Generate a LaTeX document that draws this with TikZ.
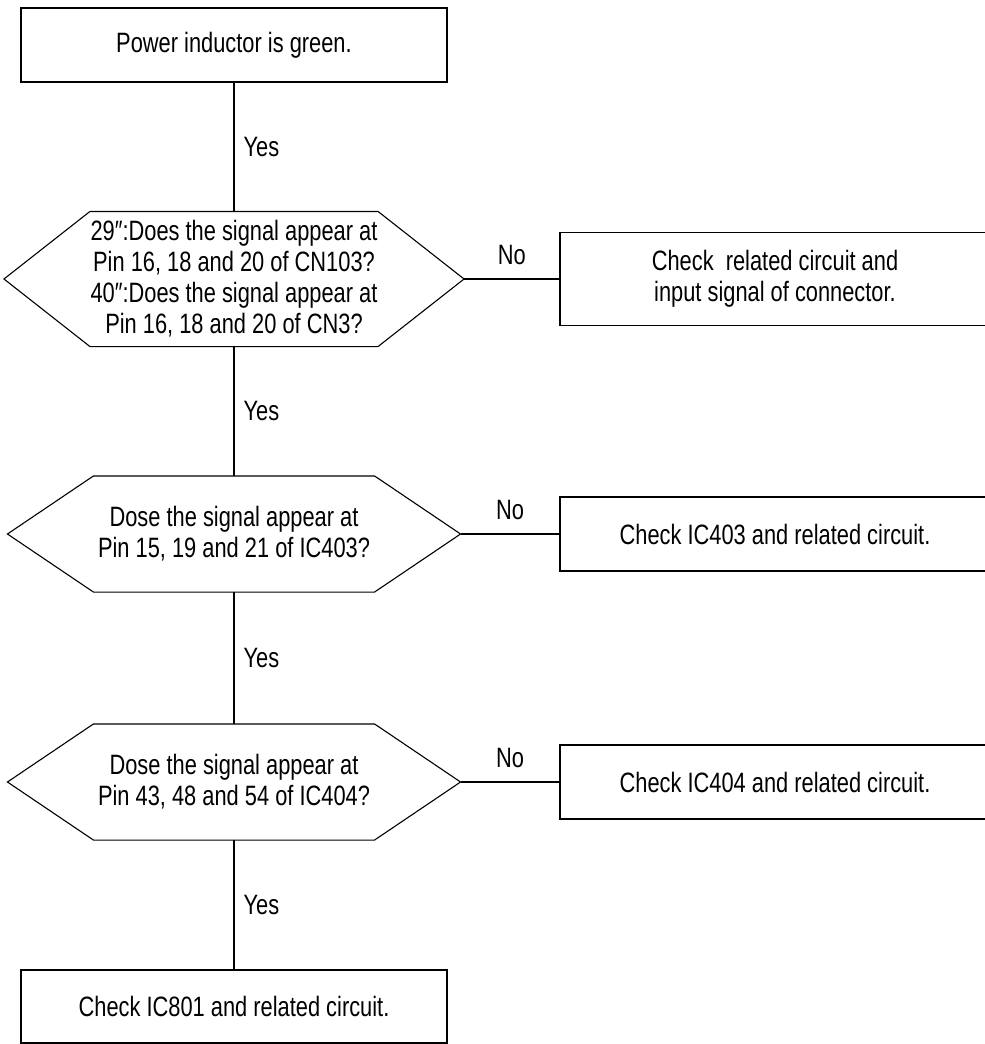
\documentclass[tikz,border=0pt]{standalone}
\usepackage{fontspec}
\setmainfont{Liberation Sans}[FakeStretch=0.78]
\usepackage{tikz}
\usetikzlibrary{positioning}

\begin{document}
\begin{tikzpicture}[x=1pt,y=-1pt,line width=1.1pt]
	\useasboundingbox (0,0) rectangle (985,1044);
	\clip (0,0) rectangle (985,1044);
	% boxes
	\begin{scope}[every node/.style={rectangle,draw,line width=1.1pt,align=center,inner sep=0pt,font=\fontsize{28}{31}\selectfont}]
		\node (P) at (234,45) [minimum width=426pt,minimum height=74pt] {Power inductor is green.};
		\node (B1) at (775,279) [minimum width=430pt,minimum height=93pt] {Check\ \ related circuit and\\input signal of connector.};
		\node (B2) at (775,534) [minimum width=430pt,minimum height=74pt] {Check IC403 and related circuit.};
		\node (B3) at (775,782) [minimum width=430pt,minimum height=74pt] {Check IC404 and related circuit.};
		\node (E) at (234,1006.5) [minimum width=426pt,minimum height=73pt] {Check IC801 and related circuit.};
	\end{scope}
	
	% questions
	\begin{scope}[every node/.style={rectangle,align=center,inner sep=0pt,minimum width=280pt,font=\fontsize{28}{31}\selectfont}]
		\node (H1) at (234,279) [minimum height=134pt] {29″:Does the signal appear at\\Pin 16, 18 and 20 of CN103?\\40″:Does the signal appear at\\Pin 16, 18 and 20 of CN3?};
		\node (H2) at (234,534) [minimum height=115pt] {Dose the signal appear at\\Pin 15, 19 and 21 of IC403?};
		\node (H3) at (234,782) [minimum height=115pt] {Dose the signal appear at\\Pin 43, 48 and 54 of IC404?};
	\end{scope}
	\coordinate (H1w) at ([xshift=-86pt]H1.west);
	\coordinate (H1e) at ([xshift=86pt]H1.east);
	\coordinate (H2w) at ([xshift=-86pt]H2.west);
	\coordinate (H2e) at ([xshift=86pt]H2.east);
	\coordinate (H3w) at ([xshift=-86pt]H3.west);
	\coordinate (H3e) at ([xshift=86pt]H3.east);
	\draw (H1.north west) -- (H1.north east) -- (H1e) -- (H1.south east) -- (H1.south west) -- (H1w) -- cycle;
	\draw (H2.north west) -- (H2.north east) -- (H2e) -- (H2.south east) -- (H2.south west) -- (H2w) -- cycle;
	\draw (H3.north west) -- (H3.north east) -- (H3e) -- (H3.south east) -- (H3.south west) -- (H3w) -- cycle;
	
	\begin{scope}[every node/.style={inner sep=0pt,font=\fontsize{28}{31}\selectfont}]
		\path (P) edge node[right=9pt] {Yes} (H1);
		\path (H1) edge node[right=9pt] {Yes} (H2);
		\path (H2) edge node[right=9pt] {Yes} (H3);
		\path (H3) edge node[right=9pt] {Yes} (E);
		
		\path (H1e) edge node[above=14pt] {No} (B1);
		\path (H2e) edge node[above=14pt] {No} (B2);
		\path (H3e) edge node[above=14pt] {No} (B3);
	\end{scope}
\end{tikzpicture}
\end{document}
